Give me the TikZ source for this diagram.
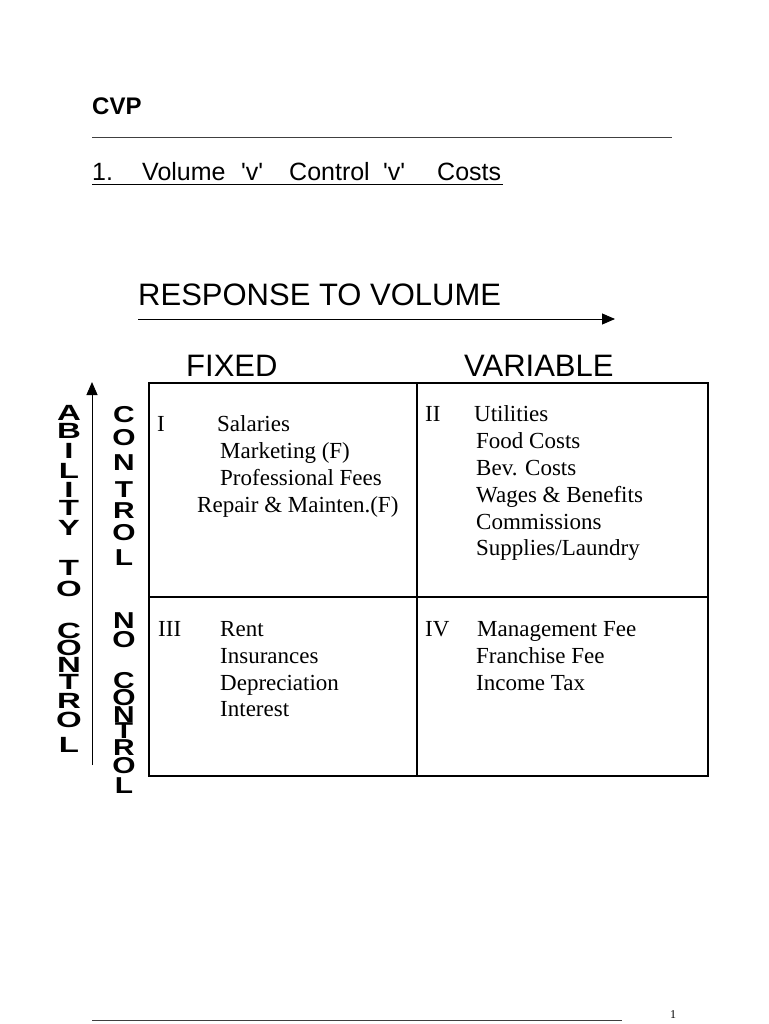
\documentclass[tikz,border=0pt]{standalone}
\usepackage{fontspec}
\usepackage{graphicx}
\setmainfont{Liberation Serif}
\newfontfamily\arial{Liberation Sans}[Ligatures=TeXOff]
\usetikzlibrary{arrows.meta}
\tikzset{
  ser/.style={anchor=base west, inner sep=0pt, font=\fontsize{23}{27}\selectfont},
  sans/.style={anchor=base west, inner sep=0pt, font=\arial\fontsize{25}{29}\selectfont},
  big/.style={anchor=base west, inner sep=0pt, font=\arial\fontsize{31}{35}\selectfont},
  lcol/.style={anchor=base, inner sep=0pt, font=\arial\bfseries\fontsize{22}{22}\selectfont},
  rcol/.style={anchor=base, inner sep=0pt, font=\arial\bfseries\fontsize{23}{23}\selectfont},
  arr/.style={line width=1pt, -{Triangle[length=13pt,width=11pt]}},
  gridline/.style={line width=1.5pt},
  rule/.style={line width=1pt, draw=black!75}
}
\begin{document}
\begin{tikzpicture}[x=1pt,y=-1pt]
\useasboundingbox (0,0) rectangle (768,1024);
\fill[white] (0,0) rectangle (768,1024);
% header
\node[anchor=base west, inner sep=0pt, font=\arial\bfseries\fontsize{24}{27}\selectfont] (cvp) at (92,115) {CVP};
\coordinate (h0) at (92,137.5); \coordinate (h1) at (672,137.5);
\draw[rule] (h0) -- (h1);
\node[sans] (t1) at (92,181) {1.};
\node[sans] (t2) at (142,181) {Volume};
\node[sans] (t3) at (241,181) {'v'};
\node[sans] (t4) at (289,181) {Control};
\node[sans] (t5) at (383,181) {'v'};
\node[sans] (t6) at (437,181) {Costs};
\coordinate (u0) at (92,185); \coordinate (u1) at (503,185);
\draw[line width=1pt] (u0) -- (u1);
% response to volume
\node[big] (rtv) at (138,305) {RESPONSE TO VOLUME};
\coordinate (ha0) at (138,319); \coordinate (ha1) at (615,319);
\draw[arr] (ha0) -- (ha1);
\node[big] (fixed) at (186,376) {FIXED};
\node[big] (variable) at (464,376) {VARIABLE};
% vertical arrow
\coordinate (va0) at (92,765); \coordinate (va1) at (92,382);
\draw[arr] (va0) -- (va1);
% grid
\coordinate (g00) at (149,383); \coordinate (g11) at (708,776);
\coordinate (gm0) at (417,383); \coordinate (gm1) at (417,776);
\coordinate (gh0) at (149,597); \coordinate (gh1) at (708,597);
\draw[gridline] (g00) rectangle (g11);
\draw[gridline] (gm0) -- (gm1);
\draw[gridline] (gh0) -- (gh1);
% left column letters
\foreach \ch/\y [count=\i] in {A/420,B/438,I/458,L/478,I/497,T/515,Y/535,T/575,O/596,C/638,O/655,N/672,T/689,R/708,O/727,L/752}
  \node[lcol] (lc\i) at (69,\y) {\scalebox{1.5}[1]{\ch}};
% right column letters
\foreach \ch/\y [count=\i] in {C/422,O/445,N/470,T/497,R/518,O/540,L/565,N/628,O/647,C/688,O/705,N/722,T/738,R/755,O/773,L/793}
  \node[rcol] (rc\i) at (124,\y) {\scalebox{1.3}[1]{\ch}};
% quadrant I
\node[ser] (q1n) at (157,431) {I};
\node[ser] (q1a) at (217,431) {Salaries};
\node[ser] (q1b) at (220,458) {Marketing (F)};
\node[ser] (q1c) at (220,485) {Professional Fees};
\node[ser] (q1d) at (197,512) {Repair \& Mainten.(F)};
% quadrant II
\node[ser] (q2n) at (425,421) {II};
\node[ser] (q2a) at (474,421) {Utilities};
\node[ser] (q2b) at (476,448) {Food Costs};
\node[ser] (q2c) at (476,475) {Bev. Costs};
\node[ser] (q2d) at (476,502) {Wages \& Benefits};
\node[ser] (q2e) at (476,529) {Commissions};
\node[ser] (q2f) at (476,555) {Supplies/Laundry};
% quadrant III
\node[ser] (q3n) at (158,636) {III};
\node[ser] (q3a) at (220,636) {Rent};
\node[ser] (q3b) at (220,663) {Insurances};
\node[ser] (q3c) at (220,690) {Depreciation};
\node[ser] (q3d) at (220,716) {Interest};
% quadrant IV
\node[ser] (q4n) at (425,636) {IV};
\node[ser] (q4a) at (477,636) {Management Fee};
\node[ser] (q4b) at (476,663) {Franchise Fee};
\node[ser] (q4c) at (476,690) {Income Tax};
% footer
\coordinate (f0) at (92,1020); \coordinate (f1) at (622,1020);
\draw[rule] (f0) -- (f1);
\node[anchor=base west, inner sep=0pt, font=\fontsize{12}{14}\selectfont] (pg) at (670,1018) {1};
\end{tikzpicture}
\end{document}
